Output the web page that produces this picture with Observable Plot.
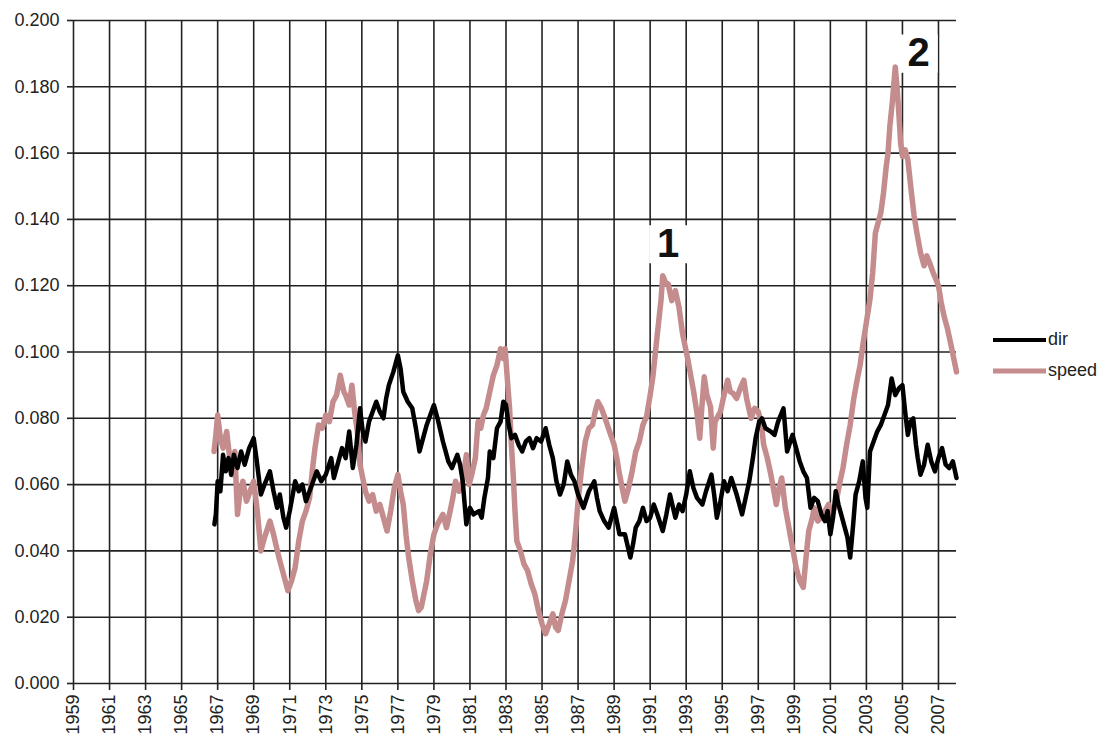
<!DOCTYPE html>
<html>
<head>
<meta charset="utf-8">
<script src="https://cdn.jsdelivr.net/npm/d3@7"></script>
<script src="https://cdn.jsdelivr.net/npm/@observablehq/plot@0.6"></script>
<style>
  html, body { margin: 0; padding: 0; background: #fff; }
  #wrap { position: relative; width: 1110px; height: 740px; overflow: hidden; font-family: "Liberation Sans", Arial, sans-serif; }
  #legend { position: absolute; left: 993px; top: 324px; font-size: 18px; color: #222; }
  .item { display: flex; align-items: center; height: 31px; }
  .item svg { margin-right: 2px; }
</style>
</head>
<body>
<div id="wrap">
  <div id="chart"></div>
  <div id="legend"></div>
</div>
<script>
// ---- data ----
const xTicks = [1959,1961,1963,1965,1967,1969,1971,1973,1975,1977,1979,1981,1983,1985,1987,1989,1991,1993,1995,1997,1999,2001,2003,2005,2007];
const yTicks = [0,0.02,0.04,0.06,0.08,0.1,0.12,0.14,0.16,0.18,0.2];
const seriesNames = ["dir", "speed"];
const seriesColors = ["#000000", "#c48c8c"];

const dirYears = [1966.82,1966.9,1967.0,1967.15,1967.3,1967.45,1967.6,1967.75,1967.9,1968.1,1968.3,1968.5,1968.75,1969.0,1969.15,1969.4,1969.6,1969.9,1970.1,1970.3,1970.45,1970.65,1970.8,1971.0,1971.3,1971.5,1971.7,1971.9,1972.1,1972.3,1972.5,1972.75,1973.0,1973.3,1973.45,1973.7,1973.9,1974.1,1974.3,1974.5,1974.7,1974.9,1975.05,1975.2,1975.4,1975.6,1975.8,1976.0,1976.2,1976.35,1976.5,1976.75,1977.0,1977.15,1977.3,1977.55,1977.8,1978.0,1978.2,1978.4,1978.6,1978.8,1979.0,1979.2,1979.5,1979.65,1979.8,1980.0,1980.3,1980.45,1980.6,1980.8,1981.0,1981.2,1981.5,1981.65,1981.8,1982.0,1982.1,1982.3,1982.5,1982.7,1982.85,1983.0,1983.15,1983.3,1983.5,1983.7,1983.9,1984.1,1984.3,1984.5,1984.7,1984.95,1985.2,1985.4,1985.6,1985.8,1986.0,1986.2,1986.4,1986.6,1986.8,1987.0,1987.3,1987.6,1987.9,1988.05,1988.2,1988.45,1988.7,1989.0,1989.15,1989.3,1989.6,1989.9,1990.05,1990.2,1990.4,1990.6,1990.8,1991.0,1991.2,1991.4,1991.7,1991.9,1992.1,1992.4,1992.6,1992.8,1993.0,1993.2,1993.4,1993.6,1993.9,1994.1,1994.4,1994.55,1994.7,1994.9,1995.1,1995.3,1995.5,1995.8,1996.1,1996.3,1996.5,1996.7,1996.85,1997.05,1997.2,1997.4,1997.7,1997.9,1998.1,1998.4,1998.6,1998.9,1999.1,1999.3,1999.5,1999.7,1999.9,2000.1,2000.3,2000.5,2000.7,2000.85,2001.0,2001.15,2001.3,2001.45,2001.6,2001.8,2001.95,2002.1,2002.25,2002.4,2002.6,2002.8,2002.95,2003.05,2003.2,2003.4,2003.6,2003.8,2004.0,2004.2,2004.4,2004.6,2004.8,2005.0,2005.15,2005.3,2005.45,2005.6,2005.75,2005.85,2006.0,2006.2,2006.4,2006.6,2006.8,2007.0,2007.2,2007.4,2007.6,2007.8,2008.0];
const dirValues = [0.048,0.051,0.061,0.058,0.069,0.064,0.068,0.063,0.069,0.065,0.070,0.066,0.071,0.074,0.068,0.057,0.060,0.064,0.058,0.053,0.057,0.050,0.047,0.052,0.061,0.058,0.060,0.055,0.058,0.061,0.064,0.061,0.063,0.068,0.062,0.067,0.071,0.068,0.076,0.065,0.072,0.083,0.076,0.073,0.079,0.082,0.085,0.082,0.080,0.086,0.090,0.094,0.099,0.095,0.088,0.085,0.083,0.077,0.070,0.074,0.078,0.081,0.084,0.080,0.073,0.070,0.067,0.065,0.069,0.066,0.061,0.048,0.053,0.051,0.052,0.050,0.056,0.062,0.070,0.068,0.077,0.079,0.085,0.084,0.078,0.074,0.075,0.072,0.070,0.073,0.074,0.071,0.074,0.073,0.077,0.072,0.068,0.061,0.057,0.060,0.067,0.063,0.061,0.057,0.053,0.058,0.061,0.056,0.052,0.049,0.047,0.053,0.049,0.045,0.045,0.038,0.042,0.047,0.049,0.053,0.049,0.050,0.054,0.051,0.046,0.051,0.057,0.050,0.054,0.052,0.057,0.064,0.059,0.056,0.054,0.058,0.063,0.057,0.050,0.055,0.061,0.058,0.062,0.057,0.051,0.056,0.061,0.068,0.074,0.079,0.080,0.077,0.076,0.075,0.079,0.083,0.070,0.075,0.071,0.067,0.064,0.062,0.053,0.056,0.055,0.051,0.049,0.052,0.045,0.050,0.058,0.054,0.051,0.047,0.044,0.038,0.047,0.057,0.061,0.067,0.056,0.053,0.070,0.073,0.076,0.078,0.081,0.084,0.092,0.087,0.089,0.090,0.082,0.075,0.079,0.080,0.072,0.068,0.063,0.066,0.072,0.067,0.064,0.068,0.071,0.066,0.065,0.067,0.062];

const speedYears = [1966.8,1966.9,1967.0,1967.15,1967.3,1967.5,1967.65,1967.8,1967.95,1968.1,1968.25,1968.4,1968.6,1968.8,1969.0,1969.2,1969.4,1969.6,1969.9,1970.1,1970.4,1970.65,1970.9,1971.1,1971.3,1971.5,1971.7,1971.9,1972.1,1972.25,1972.4,1972.6,1972.8,1973.0,1973.2,1973.4,1973.6,1973.8,1974.0,1974.1,1974.3,1974.45,1974.6,1974.75,1974.9,1975.05,1975.2,1975.4,1975.6,1975.8,1976.0,1976.2,1976.4,1976.6,1976.8,1977.0,1977.15,1977.3,1977.45,1977.6,1977.8,1978.0,1978.15,1978.3,1978.45,1978.6,1978.8,1979.0,1979.2,1979.5,1979.7,1979.9,1980.05,1980.2,1980.4,1980.6,1980.8,1980.95,1981.1,1981.3,1981.45,1981.6,1981.75,1981.9,1982.1,1982.3,1982.5,1982.7,1982.85,1982.95,1983.1,1983.2,1983.3,1983.4,1983.5,1983.6,1983.8,1984.0,1984.2,1984.4,1984.6,1984.8,1985.0,1985.2,1985.4,1985.6,1985.75,1985.9,1986.1,1986.3,1986.5,1986.7,1986.85,1987.0,1987.2,1987.4,1987.6,1987.8,1987.95,1988.1,1988.3,1988.5,1988.75,1989.0,1989.15,1989.3,1989.45,1989.6,1989.8,1990.0,1990.2,1990.4,1990.6,1990.8,1991.0,1991.15,1991.4,1991.6,1991.7,1991.85,1992.0,1992.2,1992.4,1992.6,1992.8,1993.1,1993.4,1993.6,1993.75,1993.85,1994.0,1994.15,1994.35,1994.5,1994.6,1994.9,1995.1,1995.3,1995.45,1995.6,1995.8,1996.0,1996.2,1996.35,1996.6,1996.8,1997.0,1997.15,1997.3,1997.5,1997.7,1997.9,1998.0,1998.15,1998.3,1998.5,1998.8,1999.0,1999.1,1999.3,1999.5,1999.65,1999.8,2000.0,2000.1,2000.3,2000.5,2000.7,2000.9,2001.1,2001.3,2001.5,2001.7,2001.9,2002.1,2002.3,2002.5,2002.65,2002.8,2003.0,2003.2,2003.35,2003.5,2003.65,2003.8,2003.95,2004.1,2004.2,2004.3,2004.45,2004.6,2004.7,2004.8,2004.9,2005.0,2005.15,2005.3,2005.5,2005.65,2005.8,2006.0,2006.2,2006.35,2006.5,2006.7,2006.85,2007.0,2007.15,2007.3,2007.5,2007.7,2007.85,2008.0];
const speedValues = [0.070,0.075,0.081,0.074,0.071,0.076,0.069,0.063,0.070,0.051,0.058,0.061,0.055,0.058,0.061,0.052,0.040,0.044,0.049,0.045,0.038,0.033,0.028,0.031,0.035,0.043,0.049,0.052,0.056,0.064,0.071,0.078,0.077,0.081,0.079,0.085,0.087,0.093,0.088,0.087,0.084,0.090,0.082,0.076,0.066,0.062,0.058,0.055,0.057,0.052,0.054,0.050,0.046,0.052,0.059,0.063,0.058,0.054,0.045,0.038,0.031,0.025,0.022,0.023,0.027,0.031,0.039,0.045,0.048,0.051,0.047,0.052,0.056,0.061,0.058,0.061,0.069,0.060,0.063,0.068,0.079,0.077,0.081,0.083,0.088,0.093,0.096,0.101,0.098,0.101,0.090,0.083,0.072,0.063,0.052,0.043,0.040,0.036,0.034,0.030,0.027,0.022,0.018,0.015,0.018,0.021,0.017,0.016,0.021,0.025,0.031,0.037,0.045,0.055,0.065,0.073,0.077,0.078,0.082,0.085,0.083,0.080,0.076,0.072,0.068,0.063,0.059,0.055,0.059,0.064,0.070,0.073,0.078,0.0805,0.087,0.0925,0.1055,0.1155,0.123,0.121,0.1205,0.1155,0.1185,0.1135,0.1055,0.0975,0.0885,0.0815,0.074,0.082,0.0925,0.087,0.0835,0.071,0.079,0.082,0.087,0.0915,0.088,0.0875,0.086,0.089,0.0915,0.086,0.080,0.083,0.082,0.079,0.072,0.068,0.063,0.057,0.054,0.059,0.062,0.053,0.044,0.038,0.035,0.031,0.029,0.038,0.046,0.050,0.053,0.049,0.050,0.052,0.054,0.051,0.054,0.060,0.065,0.072,0.078,0.086,0.092,0.096,0.102,0.109,0.116,0.124,0.136,0.139,0.142,0.148,0.156,0.160,0.168,0.176,0.186,0.180,0.172,0.163,0.159,0.161,0.158,0.148,0.141,0.136,0.130,0.126,0.129,0.127,0.124,0.122,0.120,0.115,0.111,0.107,0.102,0.098,0.094];

const annoLabels = ["1", "2"];
const annoYears = [1992.0, 2005.9];
const annoValues = [0.1325, 0.190];

// ---- build tables ----
const dirData = dirYears.map((y, i) => ({year: y, value: dirValues[i]}));
const speedData = speedYears.map((y, i) => ({year: y, value: speedValues[i]}));
const annoData = annoLabels.map((t, i) => ({label: t, year: annoYears[i], value: annoValues[i]}));

const gridColor = "#222";

const chart = Plot.plot({
  width: 1110,
  height: 740,
  marginLeft: 73,
  marginRight: 154,
  marginTop: 20,
  marginBottom: 57,
  style: {fontFamily: "'Liberation Sans', Arial, sans-serif", fontSize: "18px", color: "#222", background: "#fff", overflow: "visible"},
  x: {domain: [1959, 2008]},
  y: {domain: [0, 0.2]},
  marks: [
    Plot.gridX(xTicks, {stroke: gridColor, strokeOpacity: 1, strokeWidth: 1.6}),
    Plot.gridY(yTicks, {stroke: gridColor, strokeOpacity: 1, strokeWidth: 1.6}),
    Plot.axisY(yTicks, {tickFormat: d3.format(".3f"), tickSize: 6, tickPadding: 8, stroke: gridColor, strokeWidth: 1.6, fontSize: 18, label: null}),
    Plot.axisX(xTicks, {tickFormat: d => String(d), tickSize: 7, tickPadding: 4, tickRotate: -90, stroke: gridColor, strokeWidth: 1.6, fontSize: 18, label: null}),
    Plot.line(speedData, {x: "year", y: "value", stroke: seriesColors[1], strokeWidth: 5.5, strokeLinejoin: "round"}),
    Plot.line(dirData, {x: "year", y: "value", stroke: seriesColors[0], strokeWidth: 4.5, strokeLinejoin: "round"}),
    Plot.dot(annoData, {x: "year", y: "value", symbol: "square", r: 21.5, fill: "white", stroke: "none"}),
    Plot.text(annoData, {x: "year", y: "value", text: "label", fontSize: 40, fontWeight: "bold", fill: "#111"})
  ]
});
document.getElementById("chart").appendChild(chart);

// ---- legend ----
const legend = document.getElementById("legend");
seriesNames.forEach((name, i) => {
  const item = document.createElement("div");
  item.className = "item";
  item.innerHTML = `<svg width="53" height="10"><line x1="0" x2="53" y1="5" y2="5" stroke="${seriesColors[i]}" stroke-width="${i === 0 ? 4 : 5}"/></svg><span>${name}</span>`;
  legend.appendChild(item);
});
</script>
</body>
</html>
